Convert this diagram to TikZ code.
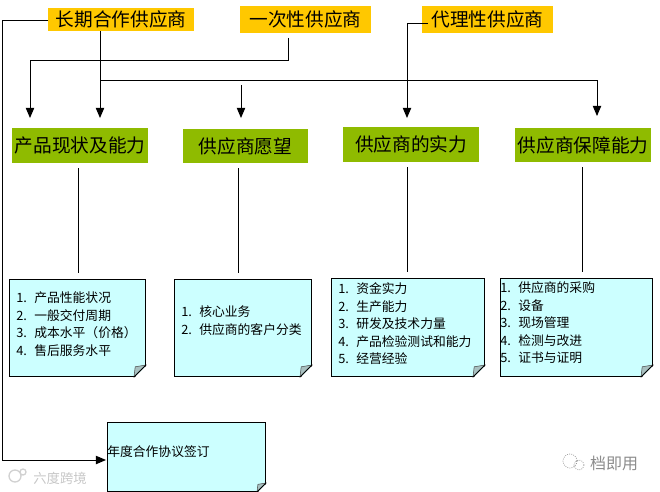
\documentclass[tikz,border=0pt]{standalone}
\usepackage{fontspec}
\setmainfont{Noto Sans CJK SC}
\usetikzlibrary{arrows}
\definecolor{supplyfill}{HTML}{FFC800}
\definecolor{headfill}{HTML}{8FBB00}
\definecolor{notefill}{HTML}{CCFFFF}
\definecolor{foldfill}{HTML}{A8C0C0}
\newcommand{\itm}[2]{\makebox[13.5pt][l]{#1.}#2}
\tikzset{
    %Define standard arrow tip
    >=triangle 45,
    %Define style for boxes
    supply/.style={
           rectangle,
           fill=supplyfill,
           inner sep=0pt,
           font=\fontsize{14}{16}\selectfont,
           text centered},
    head/.style={
           rectangle,
           fill=headfill,
           inner sep=0pt,
           font=\fontsize{14}{16}\selectfont,
           text centered},
    note/.style={
           rectangle,
           draw=black,
           fill=notefill,
           line width=.75pt,
           anchor=north west,
           inner sep=0pt},
    items/.style={
           anchor=west,
           inner sep=0pt,
           align=left,
           font=\fontsize{9.6}{13.1}\selectfont},
    stamp/.style={
           inner sep=0pt,
           text=black!45}
}
\tikzset{
    % Define line style
    pil/.style={->,line width=.75pt},
    stem/.style={line width=.75pt}
}
\begin{document}
\begin{tikzpicture}[x=.75pt,y=-.75pt]
\useasboundingbox (0,0) rectangle (660,492);
 %top boxes
\node[supply,minimum width=109.5pt,minimum height=17.25pt](longterm) at (121,19.5){长期合作供应商};
\node[supply,minimum width=98.25pt,minimum height=20.25pt](once) at (305.5,19.5){一次性供应商};
\node[supply,minimum width=98.25pt,minimum height=20.25pt](agent) at (487.5,19.5){代理性供应商};
 %green boxes
\node[head,minimum width=102pt,minimum height=26.25pt](prod) at (80,145.5){产品现状及能力};
\node[head,minimum width=93.75pt,minimum height=25.5pt](wish) at (245.5,146){供应商愿望};
\node[head,minimum width=102pt,minimum height=26.25pt](power) at (411,144.5){供应商的实力};
\node[head,minimum width=102pt,minimum height=25.5pt](assure) at (583,145){供应商保障能力};
 %notes
\node[note,minimum width=102pt,minimum height=72.75pt](noteA) at (9,279){};
\node[note,minimum width=102.75pt,minimum height=72.75pt](noteB) at (174,279){};
\node[note,minimum width=114.75pt,minimum height=73.5pt](noteC) at (331,278){};
\node[note,minimum width=114pt,minimum height=73.5pt](noteD) at (500,278){};
\node[note,minimum width=118.5pt,minimum height=51.75pt](deal) at (107,422){};
 %folded corners
\foreach \n/\s in {noteA/12,noteB/12,noteC/12,noteD/12,deal/9}{
  \fill[white] (\n.south east) ++(1,1) -- ++(-\s-1,0) -- ++(\s+1,-\s-1) -- cycle;
  \draw[line width=.4pt,black!70,fill=foldfill] (\n.south east) ++(0,-\s) -- ++(-\s,\s) -- ++(.1*\s,-.85*\s) -- cycle;
  \draw[line width=.75pt] (\n.south east) ++(0,-\s) -- ++(-\s,\s);
}
 %note texts
\node[items](itemsA) at (16,324){\itm{1}{产品性能状况}\\\itm{2}{一般交付周期}\\\itm{3}{成本水平（价格）}\\\itm{4}{售后服务水平}};
\node[items](itemsB) at (181,320.5){\itm{1}{核心业务}\\\itm{2}{供应商的客户分类}};
\node[items](itemsC) at (338,324){\itm{1}{资金实力}\\\itm{2}{生产能力}\\\itm{3}{研发及技术力量}\\\itm{4}{产品检验测试和能力}\\\itm{5}{经营经验}};
\node[items](itemsD) at (500,323){\itm{1}{供应商的采购}\\\itm{2}{设备}\\\itm{3}{现场管理}\\\itm{4}{检测与改进}\\\itm{5}{证书与证明}};
\node[items](itemsE) at (107,452){年度合作协议签订};
 %watermarks
\node[stamp,font=\fontsize{10}{12}\selectfont,text=black!22](stampA) at (60,478){六度跨境};
\node[stamp,font=\fontsize{12}{14}\selectfont](stampB) at (614,463){档即用};
\draw[black!40,densely dotted,line width=.6pt] (570,461) circle (7) (579,465) circle (5);
\draw[black!18,line width=1pt] (15,476) circle (6) (23,472) circle (3);
 %free ends
\coordinate (tipA) at (30,118);
\coordinate (tipB) at (100,118);
\coordinate (tipC) at (241,118);
\coordinate (tipD) at (407,118);
\coordinate (tipE) at (597,116);
\coordinate (tipF) at (106,460);
\coordinate (onceout) at (288,38);
\coordinate (agentout) at (428,24);
\coordinate (longout) at (48,21);
\coordinate (branch) at (100,81);
 %connectors
\draw[pil] (longout) -- (2,21) |- (tipF);
\draw[pil] (tipB |- longterm.south) -- (tipB);
\draw[pil] (branch) -| (tipE);
\draw[pil] (241,85) -- (tipC);
\draw[pil] (onceout) |- (tipA |- 0,61) -- (tipA);
\draw[pil] (agentout) -| (tipD);
\foreach \a/\b/\x in {prod/noteA/78,wish/noteB/238,power/noteC/407,assure/noteD/582}
  \draw[stem,shorten <=3.75pt,shorten >=4.5pt] (\x,0 |- \a.south) -- (\x,0 |- \b.north);
\end{tikzpicture}
\end{document}
